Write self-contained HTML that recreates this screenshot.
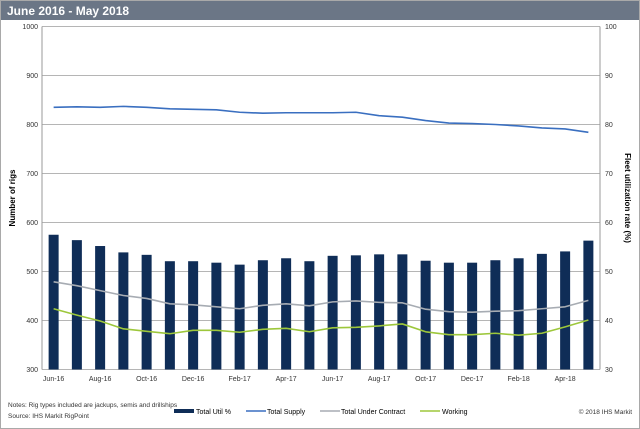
<!DOCTYPE html>
<html><head><meta charset="utf-8"><style>
body{margin:0;background:#fff;}
#wrap{position:relative;width:640px;height:429px;overflow:hidden;font-family:"Liberation Sans",sans-serif;}
</style></head><body>
<div id="wrap">
<svg id="chart" width="640" height="429" xmlns="http://www.w3.org/2000/svg">
<rect x="0.5" y="0.5" width="639" height="428" fill="#fff" stroke="#a9a9a9"/>
<rect x="1" y="1" width="638" height="19" fill="#6b7686"/>
<text x="7" y="15" font-size="12" font-weight="bold" fill="#fff">June 2016 - May 2018</text>
<g id="grid"></g><g id="bars"></g><g id="lines"></g><g id="axes"></g>
<text transform="translate(15,198) rotate(-90)" text-anchor="middle" font-size="8" font-weight="bold">Number of rigs</text>
<text transform="translate(625,198) rotate(90)" text-anchor="middle" font-size="8" font-weight="bold">Fleet utilization rate (%)</text>
<text x="8" y="407" font-size="6.5" fill="#333">Notes: Rig types included are jackups, semis and drillships</text>
<text x="8" y="418" font-size="6.5" fill="#333">Source: IHS Markit RigPoint</text>
<g>
<line x1="174" y1="411" x2="194" y2="411" stroke="#0f2d57" stroke-width="4"/><text x="196" y="414" font-size="7">Total Util %</text>
<line x1="246" y1="411" x2="266" y2="411" stroke="#3a6fc0" stroke-width="1.5"/><text x="267" y="414" font-size="7">Total Supply</text>
<line x1="320" y1="411" x2="340" y2="411" stroke="#a7acb3" stroke-width="1.5"/><text x="341" y="414" font-size="7">Total Under Contract</text>
<line x1="420" y1="411" x2="440" y2="411" stroke="#9dc73b" stroke-width="1.5"/><text x="442" y="414" font-size="7">Working</text>
</g>
<text x="632" y="414" text-anchor="end" font-size="6.5" fill="#333">© 2018 IHS Markit</text>
</svg>
</div>
<script>
const categories=["Jun-16","Jul-16","Aug-16","Sep-16","Oct-16","Nov-16","Dec-16","Jan-17","Feb-17","Mar-17","Apr-17","May-17","Jun-17","Jul-17","Aug-17","Sep-17","Oct-17","Nov-17","Dec-17","Jan-18","Feb-18","Mar-18","Apr-18","May-18"];
const utilPct=[57.5,56.4,55.2,53.9,53.4,52.1,52.1,51.8,51.4,52.3,52.7,52.1,53.2,53.3,53.5,53.5,52.2,51.8,51.8,52.3,52.7,53.6,54.1,56.3];
const supply=[835,836,835,837,835,832,831,830,825,823,824,824,824,825,818,815,808,803,802,800,797,793,791,784];
const underContract=[479,471,461,451,445,434,432,428,424,431,434,430,438,440,437,436,423,418,417,419,420,424,428,441];
const working=[424,411,399,383,378,373,380,380,376,382,384,377,385,386,389,393,377,371,371,374,370,374,387,401];
const leftTicks=[300,400,500,600,700,800,900,1000];
const rightTicks=[30,40,50,60,70,80,90,100];
const NS="http://www.w3.org/2000/svg";
const X0=42,X1=600,Y0=369.5,Y1=26.5;
const n=categories.length,bw=(X1-X0)/n;
const xc=i=>X0+(i+0.5)*bw;
const yL=v=>Y0-(v-300)/700*(Y0-Y1);
const yR=v=>Y0-(v-30)/70*(Y0-Y1);
function mk(t,a,p){const e=document.createElementNS(NS,t);for(const k in a)e.setAttribute(k,a[k]);p.appendChild(e);return e;}
const grid=document.getElementById('grid'),axes=document.getElementById('axes');
leftTicks.forEach((t,i)=>{
 const y=yL(t);
 const g=mk('line',{x1:X0,x2:X1,y1:y,y2:y,stroke:'#b5b5b5','stroke-width':1},grid);
 
 
 const tl=mk('text',{x:X0-4,y:y+2.5,'text-anchor':'end','font-size':7,fill:'#333'},axes);tl.textContent=t;
 
 
 const tr=mk('text',{x:X1+5,y:y+2.5,'font-size':7,fill:'#333'},axes);tr.textContent=rightTicks[i];
 
 
});
mk('line',{x1:X0,x2:X0,y1:Y1,y2:Y0,stroke:'#999'},axes);
mk('line',{x1:X1,x2:X1,y1:Y1,y2:Y0,stroke:'#999'},axes);
const bars=document.getElementById('bars');
utilPct.forEach((v,i)=>{
 const r=mk('rect',{x:xc(i)-5,y:yR(v),width:10,height:Y0-yR(v),fill:'#0f2d57'},bars);
 
 
});
categories.forEach((c,i)=>{if(i%2==0){const t=mk('text',{x:xc(i),y:381,'text-anchor':'middle','font-size':7,fill:'#333'},axes);t.textContent=c;
 
 }});
const lines=document.getElementById('lines');
function line(arr,col,name){
 const p=mk('polyline',{points:arr.map((v,i)=>xc(i)+','+yL(v)).join(' '),fill:'none',stroke:col,'stroke-width':1.6,'stroke-linejoin':'round'},lines);
 
 
}
line(supply,'#3a6fc0','total-supply-line');
line(underContract,'#a7acb3','under-contract-line');
line(working,'#9dc73b','working-line');
</script>
</body></html>
